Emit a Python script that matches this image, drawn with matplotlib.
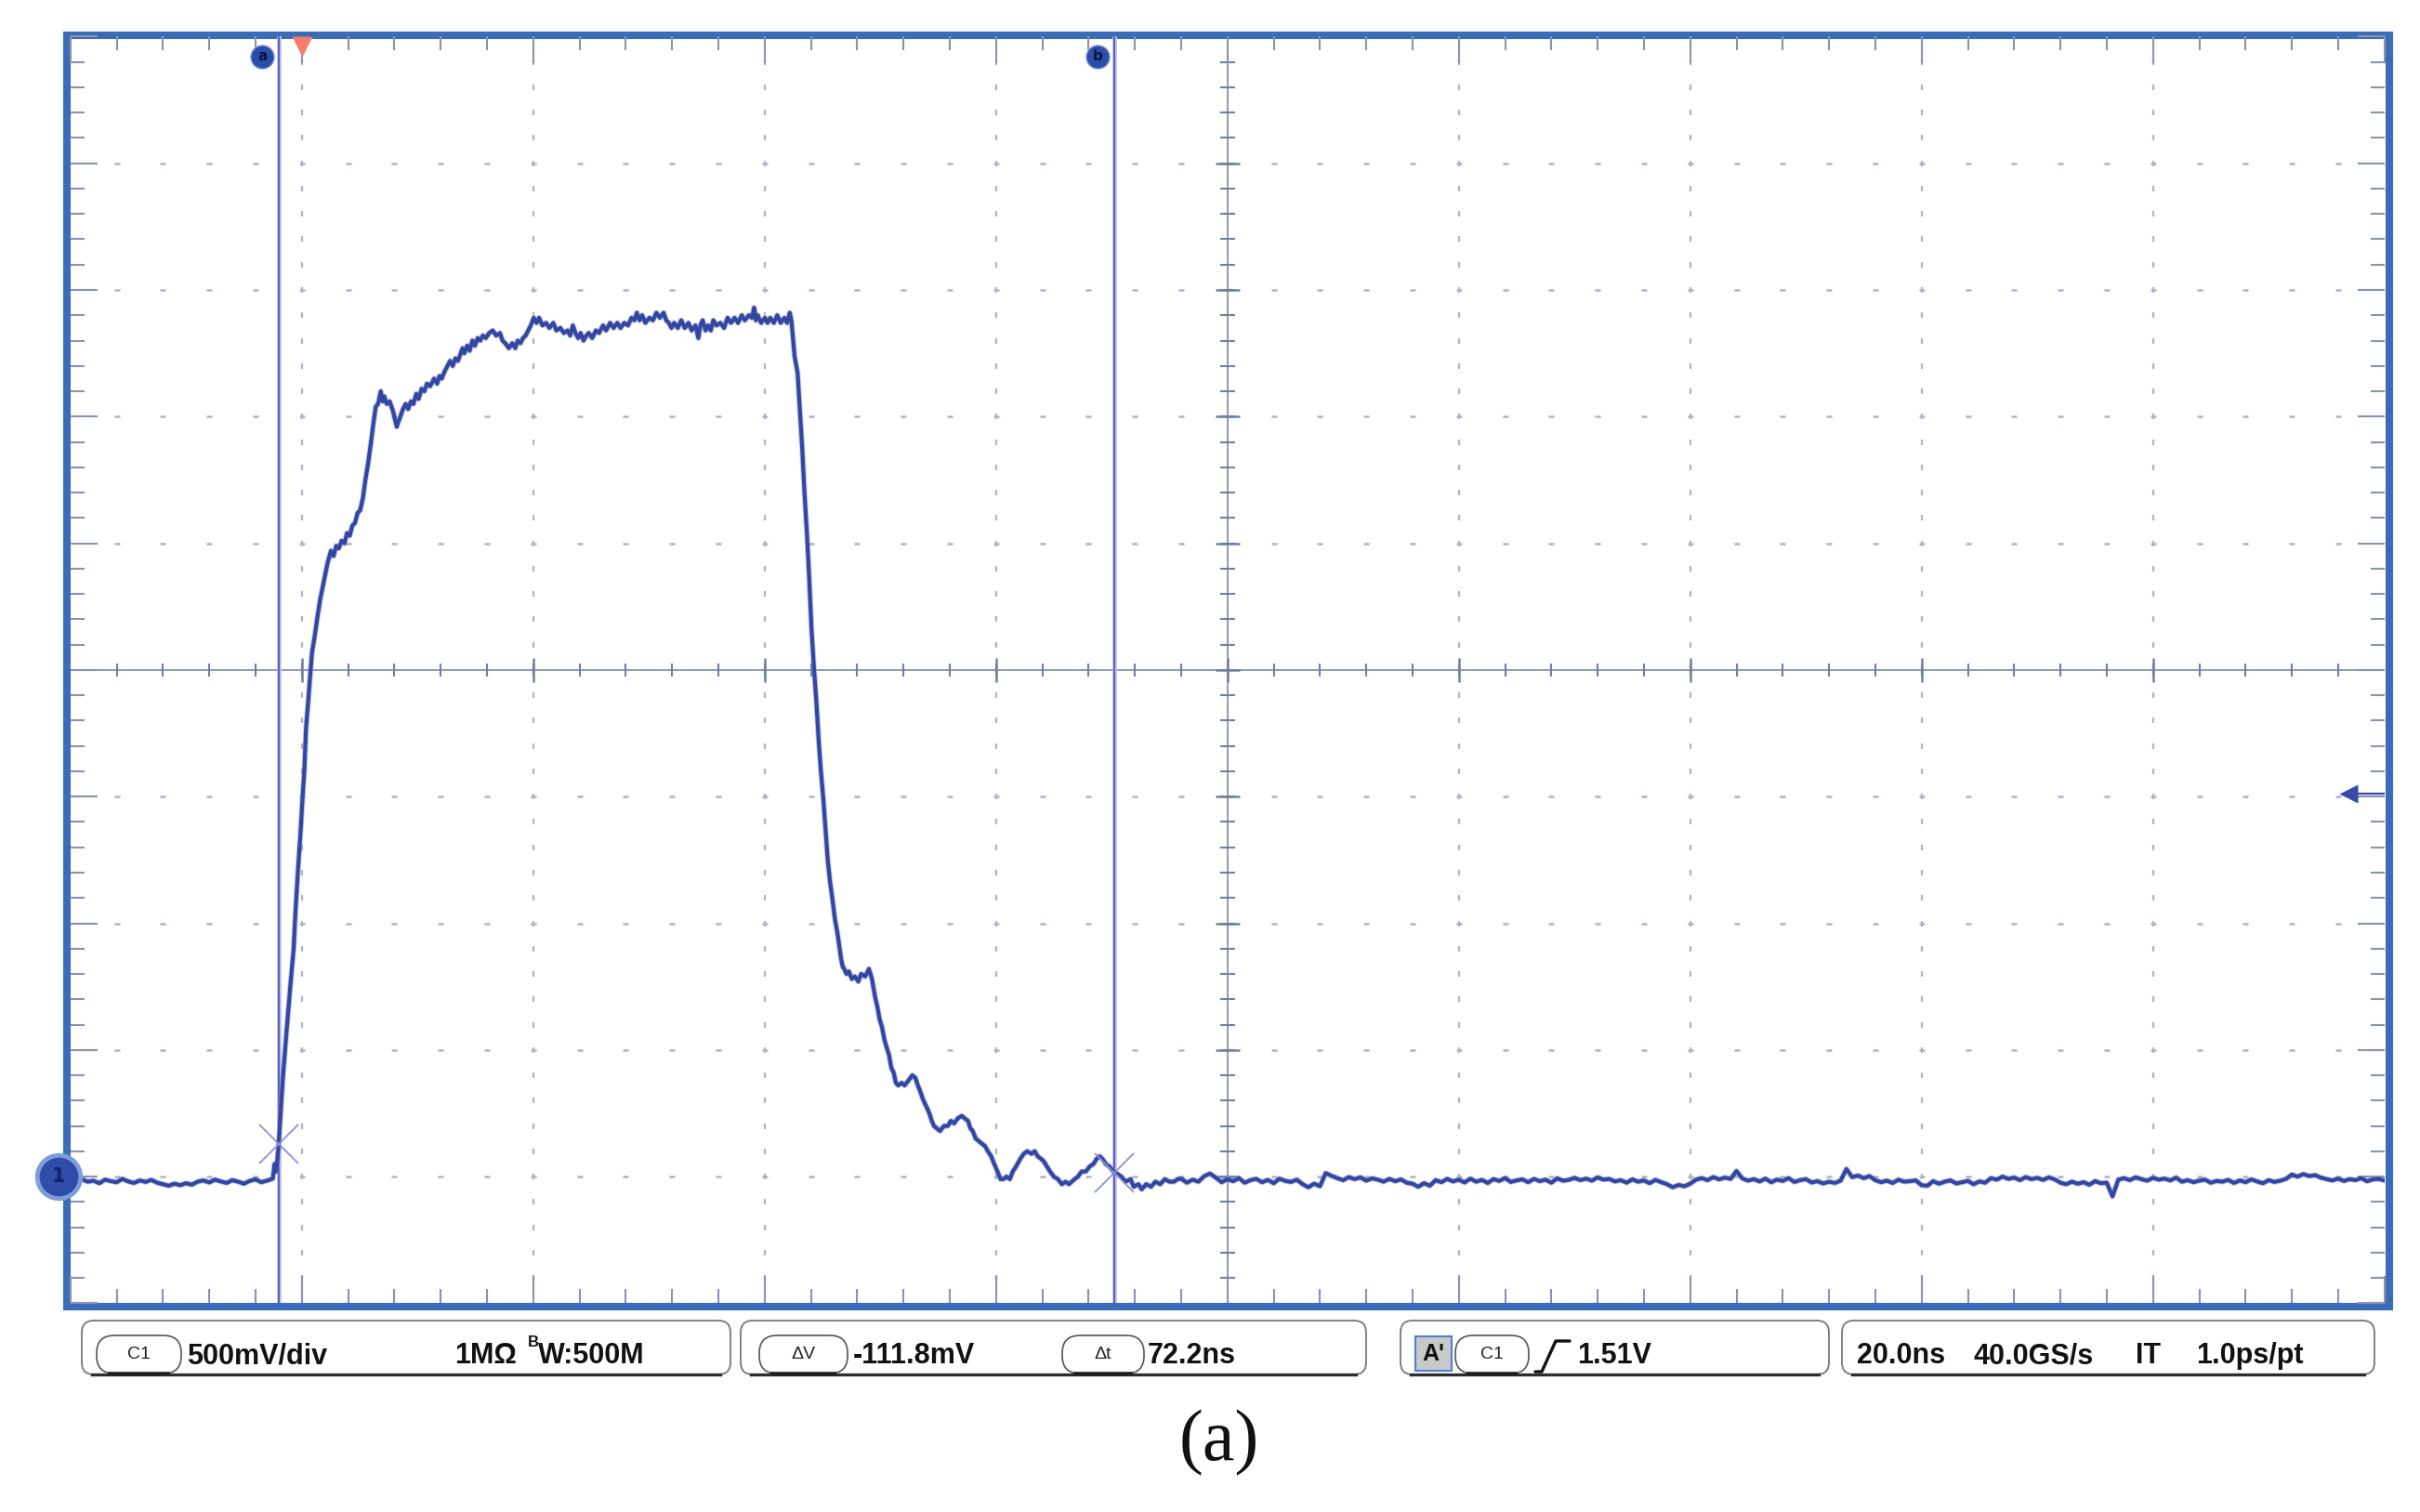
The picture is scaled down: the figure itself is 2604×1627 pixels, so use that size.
import numpy as np
import matplotlib
matplotlib.use("Agg")
import matplotlib.pyplot as plt
from matplotlib.patches import FancyBboxPatch, Rectangle
from matplotlib.lines import Line2D

# ------------------------------------------------------------------ data
TIME_PER_DIV_NS = 20.0
VOLT_PER_DIV = 0.5
X_RANGE_NS = (-20.0, 180.0)
Y_RANGE_V = (-0.5, 4.5)

# baseline before the pulse (mV), uniformly sampled over base_left_span
base_left_span = (-20.0, -2.5)
base_left_mv = [-14, -24, -10, -20, -16, -26, -12, -18, -22, -9, -19, -25,
                -15, -21, -13, -24, -30, -36, -28, -34, -26, -32, -20, -15,
                -23, -12, -19, -25, -14, -20, -28, -17, -11, -22, -16, -8]

# rising edge (ns, V)
rise_pts = [(-2.35, 0.05), (-2.20, 0.02), (-1.99, 0.13), (-1.63, 0.39), (-1.32, 0.57),
            (-1.01, 0.74), (-0.70, 0.90), (-0.55, 1.04), (-0.34, 1.20), (-0.09, 1.37),
            (0.06, 1.49), (0.22, 1.60), (0.37, 1.77), (0.53, 1.86), (0.68, 1.95),
            (0.89, 2.07), (1.14, 2.14), (1.39, 2.22), (1.60, 2.28), (1.91, 2.35),
            (2.22, 2.42), (2.52, 2.47), (2.75, 2.45), (2.98, 2.49), (3.20, 2.48),
            (3.45, 2.51), (3.70, 2.50), (3.91, 2.54), (4.15, 2.53), (4.37, 2.57),
            (4.60, 2.58), (4.83, 2.62), (5.05, 2.63), (5.29, 2.68), (5.50, 2.75),
            (5.75, 2.82), (5.99, 2.90), (6.21, 2.98), (6.40, 3.04), (6.60, 3.05),
            (6.83, 3.10)]

# top of the pulse (ns, V)
plateau_pts = [(7.00, 3.06), (7.13, 3.08), (7.35, 3.05), (7.60, 3.06), (7.90, 3.02),
               (8.05, 2.99), (8.21, 2.96), (8.35, 2.98), (8.52, 3.00), (8.75, 3.03),
               (8.98, 3.05), (9.20, 3.03), (9.44, 3.06), (9.65, 3.05), (9.90, 3.09),
               (10.10, 3.07), (10.36, 3.11), (10.60, 3.10), (10.82, 3.13), (11.10, 3.12),
               (11.44, 3.15), (11.70, 3.13), (11.90, 3.16), (12.10, 3.15), (12.36, 3.18),
               (12.60, 3.20), (12.82, 3.22), (13.05, 3.20), (13.28, 3.23), (13.50, 3.22),
               (13.74, 3.25), (13.90, 3.27), (14.05, 3.25), (14.30, 3.28), (14.51, 3.26),
               (14.75, 3.30), (14.97, 3.28), (15.20, 3.31), (15.43, 3.30), (15.65, 3.32),
               (15.90, 3.31), (16.20, 3.33), (16.51, 3.34), (16.80, 3.32), (17.13, 3.33),
               (17.35, 3.30), (17.59, 3.29), (17.90, 3.27), (18.20, 3.29), (18.45, 3.27),
               (18.66, 3.30), (18.90, 3.29), (19.12, 3.31), (19.35, 3.32), (19.58, 3.34),
               (19.80, 3.36), (20.05, 3.39), (20.30, 3.37), (20.51, 3.39), (20.80, 3.36),
               (21.12, 3.37), (21.40, 3.35), (21.74, 3.37), (22.00, 3.34), (22.35, 3.35),
               (22.65, 3.33), (22.97, 3.34), (23.20, 3.32), (23.43, 3.36), (23.65, 3.33),
               (23.89, 3.31), (24.10, 3.33), (24.35, 3.30), (24.60, 3.32), (24.81, 3.33),
               (25.10, 3.31), (25.42, 3.34), (25.70, 3.33), (26.04, 3.36), (26.30, 3.34),
               (26.65, 3.37), (26.95, 3.35), (27.27, 3.37), (27.55, 3.35), (27.88, 3.37),
               (28.20, 3.36), (28.50, 3.39), (28.75, 3.38), (28.96, 3.41), (29.20, 3.38),
               (29.42, 3.40), (29.70, 3.37), (30.04, 3.39), (30.35, 3.38), (30.65, 3.41),
               (30.95, 3.39), (31.27, 3.41), (31.50, 3.38), (31.73, 3.37), (31.95, 3.35),
               (32.19, 3.37), (32.50, 3.35), (32.80, 3.38), (33.10, 3.35), (33.42, 3.37),
               (33.70, 3.34), (34.03, 3.36), (34.28, 3.31), (34.45, 3.36), (34.65, 3.38),
               (34.90, 3.34), (35.11, 3.36), (35.35, 3.34), (35.57, 3.38), (35.85, 3.36),
               (36.18, 3.37), (36.50, 3.35), (36.80, 3.39), (37.10, 3.37), (37.41, 3.39),
               (37.70, 3.37), (38.03, 3.40), (38.30, 3.38), (38.64, 3.40), (38.90, 3.39),
               (39.10, 3.43), (39.25, 3.38), (39.41, 3.40), (39.70, 3.37), (40.03, 3.39),
               (40.25, 3.37), (40.49, 3.39), (40.80, 3.37), (41.10, 3.40), (41.40, 3.37),
               (41.72, 3.39), (41.95, 3.37), (42.18, 3.41)]

# falling edge (ns, V)
fall_pts = [(42.32, 3.38), (42.59, 3.24), (42.86, 3.17), (43.05, 3.03), (43.26, 2.87),
            (43.45, 2.70), (43.66, 2.54), (43.85, 2.37), (44.06, 2.16), (44.25, 2.02),
            (44.47, 1.88), (44.68, 1.72), (44.87, 1.60), (45.08, 1.49), (45.27, 1.37),
            (45.46, 1.25), (45.67, 1.16), (45.88, 1.09), (46.07, 1.02), (46.34, 0.95),
            (46.61, 0.86), (46.75, 0.83)]

# ringing tail (ns, V)
tail_pts = [(46.88, 0.82), (47.08, 0.80), (47.28, 0.81), (47.55, 0.78), (47.81, 0.79),
            (48.10, 0.77), (48.35, 0.80), (48.70, 0.79), (49.02, 0.82), (49.28, 0.78),
            (49.55, 0.71), (49.75, 0.67), (49.95, 0.62), (50.15, 0.59), (50.36, 0.54),
            (50.55, 0.51), (50.76, 0.48), (50.95, 0.43), (51.16, 0.41), (51.35, 0.37),
            (51.56, 0.36), (51.85, 0.37), (52.10, 0.36), (52.45, 0.38), (52.77, 0.40),
            (53.03, 0.39), (53.25, 0.36), (53.43, 0.34), (53.65, 0.31), (53.84, 0.29),
            (54.05, 0.27), (54.24, 0.25), (54.45, 0.22), (54.64, 0.20), (54.90, 0.19),
            (55.17, 0.18), (55.50, 0.20), (55.84, 0.20), (56.10, 0.22), (56.38, 0.21),
            (56.70, 0.23), (57.05, 0.24), (57.30, 0.23), (57.58, 0.22), (57.80, 0.19),
            (57.99, 0.18), (58.25, 0.15), (58.52, 0.14), (58.80, 0.13), (59.06, 0.12),
            (59.30, 0.10), (59.59, 0.08), (59.85, 0.05), (60.13, 0.02), (60.40, -0.01),
            (60.66, -0.01), (60.90, 0.00), (61.20, -0.01), (61.45, 0.02), (61.74, 0.04),
            (62.10, 0.07), (62.40, 0.09), (62.70, 0.10), (63.07, 0.09), (63.35, 0.10),
            (63.61, 0.08), (63.90, 0.07), (64.14, 0.06), (64.40, 0.04), (64.68, 0.02),
            (65.00, 0.00), (65.35, -0.01), (65.70, -0.03), (66.02, -0.02), (66.30, -0.03),
            (66.55, -0.02), (66.80, -0.01), (67.09, 0.00), (67.40, 0.02), (67.76, 0.02),
            (68.10, 0.04), (68.43, 0.05), (68.70, 0.07), (68.96, 0.08), (69.20, 0.07),
            (69.50, 0.05), (69.80, 0.04), (70.17, 0.02), (70.50, 0.01), (70.84, 0.00),
            (71.20, -0.02), (71.64, -0.01), (71.90, -0.04), (72.31, -0.03), (72.60, -0.05),
            (72.98, -0.03), (73.40, -0.04), (73.78, -0.02), (74.20, -0.03), (74.59, -0.01),
            (75.00, -0.02), (75.39, -0.02), (75.70, -0.01)]

# baseline after the pulse (mV), uniformly sampled over base_right_span
base_right_span = (76.0, 180.0)
base_right_mv = [-8, -24, -12, -20, 2, 12, -4, -22, -10, -18,
                 -6, -24, -14, -9, -22, -13, -26, -8, -17, -21,
                 -12, -30, -42, -28, -38, 14, 3, -6, -14, -2,
                 -10, -3, -16, -7, -12, -20, -9, -18, -11, -24,
                 -28, -40, -26, -36, -14, -22, -9, -19, -12, -23,
                 -8, -20, -13, -25, -10, -17, -6, -21, -15, -11,
                 -22, -9, -18, -12, -24, -7, -16, -13, -5, -14,
                 -8, -16, -3, -12, -9, -19, -14, -24, -11, -20,
                 -15, -26, -13, -22, -30, -42, -33, -38, -28, -12,
                 -6, -14, -2, -11, -4, -9, 22, -7, -16, -10,
                 -19, -8, -22, -12, -17, -6, -21, -14, -10, -23,
                 -18, -27, -20, -25, -16, 30, -2, 4, -6, 2,
                 -14, -22, -16, -25, -12, -20, -18, -15, -34, -36,
                 -18, -28, -20, -15, -27, -22, -17, -30, -19, -24,
                 -6, -12, 0, -9, -4, -14, -2, -10, -5, -13,
                 -3, -11, -24, -30, -20, -28, -22, -32, -18, -26,
                 -24, -78, -12, -6, -14, -3, -10, -16, -5, -12,
                 -8, -15, -4, -20, -14, -22, -16, -12, -24, -17,
                 -20, -13, -25, -15, -22, -11, -19, -26, -14, -21,
                 -16, -9, 8, 0, 10, 2, 6, -4, -10, -15,
                 -8, -17, -10, -14, -6, -18, -11, -9, -15]

# cursors / trigger / ground
cursor_a_ns, cursor_b_ns = -1.99, 70.21
cursor_a_v, cursor_b_v = 0.128, 0.016
trigger_pos_ns = 0.0
trigger_level_v = 1.51
ground_v = 0.0

# readout texts
ch_label = "C1"
scale_text = "500mV/div"
impedance_text = "1M\u03a9"
bw_sup, bw_text = "B", "W:500M"
dv_label, dv_text = "\u0394V", "-111.8mV"
dt_label, dt_text = "\u0394t", "72.2ns"
trig_src_text, trig_text = "A'", "1.51V"
timebase_text = "20.0ns"
rate_text = "40.0GS/s"
mode_text = "IT"
res_text = "1.0ps/pt"
caption = "(a)"

# ------------------------------------------------------------------ figure
W, H = 2604, 1627
fig = plt.figure(figsize=(W / 100, H / 100), dpi=100, facecolor="white")
ov = fig.add_axes([0, 0, 1, 1], zorder=0)
ov.set_xlim(0, W)
ov.set_ylim(H, 0)
ov.axis("off")

gx0, gx1, gy0, gy1 = 75.7, 2565.7, 39.4, 1402.4
ax = fig.add_axes([gx0 / W, 1 - gy1 / H, (gx1 - gx0) / W, (gy1 - gy0) / H], zorder=1)
ax.patch.set_alpha(0)
X0, X1 = X_RANGE_NS
Y0, Y1 = Y_RANGE_V
ax.set_xlim(X0, X1)
ax.set_ylim(Y0, Y1)
for s in ax.spines.values():
    s.set_visible(False)

px_per_ns = (gx1 - gx0) / (X1 - X0)
px_per_v = (gy1 - gy0) / (Y1 - Y0)

# edge ticks
tick_col = "#8a93ab"
ax.set_xticks(np.arange(X0, X1 + 1e-9, TIME_PER_DIV_NS))
ax.set_xticks(np.arange(X0, X1 + 1e-9, TIME_PER_DIV_NS / 5), minor=True)
ax.set_yticks(np.arange(Y0, Y1 + 1e-9, VOLT_PER_DIV))
ax.set_yticks(np.arange(Y0, Y1 + 1e-9, VOLT_PER_DIV / 5), minor=True)
ax.tick_params(which="both", direction="in", top=True, right=True, bottom=True, left=True,
               labelbottom=False, labelleft=False, color=tick_col, width=1.5)
ax.tick_params(which="major", length=21)
ax.tick_params(which="minor", length=10.5)

# dotted graticule
xdiv = np.arange(X0, X1 + 1e-9, TIME_PER_DIV_NS)
ydiv = np.arange(Y0, Y1 + 1e-9, VOLT_PER_DIV)
xminor = np.arange(X0, X1 + 1e-9, TIME_PER_DIV_NS / 5)[1:-1]
yminor = np.arange(Y0, Y1 + 1e-9, VOLT_PER_DIV / 5)[1:-1]
xc = (X0 + X1) / 2
yc = (Y0 + Y1) / 2
grid_col = "#aeb4c6"
for xg in xdiv[1:-1]:
    if abs(xg - xc) < 1e-6:
        continue
    ax.plot(np.full(len(yminor), xg), yminor, ls="none", marker="|", ms=4, mew=1.6,
            color=grid_col, zorder=1)
for yg in ydiv[1:-1]:
    if abs(yg - yc) < 1e-6:
        continue
    ax.plot(xminor, np.full(len(xminor), yg), ls="none", marker="_", ms=4.5, mew=1.8,
            color=grid_col, zorder=1)

# centre axes with cross ticks
cl_col = "#72809f"
ax.axhline(yc, color=cl_col, lw=1.1, zorder=1.5)
ax.axvline(xc, color=cl_col, lw=1.1, zorder=1.5)
ax.plot(xminor, np.full(len(xminor), yc), ls="none", marker="|", ms=10, mew=1.5, color=cl_col, zorder=1.5)
ax.plot(xdiv[1:-1], np.full(len(xdiv) - 2, yc), ls="none", marker="|", ms=19, mew=1.8, color=cl_col, zorder=1.5)
ax.plot(np.full(len(yminor), xc), yminor, ls="none", marker="_", ms=12, mew=1.5, color=cl_col, zorder=1.5)
ax.plot(np.full(len(ydiv) - 2, xc), ydiv[1:-1], ls="none", marker="_", ms=19, mew=1.8, color=cl_col, zorder=1.5)

# cursors
for xcur in (cursor_a_ns, cursor_b_ns):
    ax.axvline(xcur, color="#c0c3ea", lw=3.4, zorder=2)
    ax.axvline(xcur, color="#5a61c0", lw=1.5, zorder=2.1)

# waveform
lt = np.linspace(base_left_span[0], base_left_span[1], len(base_left_mv))
rt = np.linspace(base_right_span[0], base_right_span[1], len(base_right_mv))
seg = rise_pts + plateau_pts + fall_pts + tail_pts
st = [p[0] for p in seg]
sv = [p[1] for p in seg]
t_all = np.concatenate([lt, st, rt])
v_all = np.concatenate([np.array(base_left_mv) / 1000.0, sv, np.array(base_right_mv) / 1000.0])
ax.plot(t_all, v_all, color="#8a96d0", lw=4.4, alpha=0.55, zorder=2.9, solid_joinstyle="round")
ax.plot(t_all, v_all, color="#3246a2", lw=3.0, zorder=3, solid_joinstyle="round")

# cursor crossings
ax.plot([cursor_a_ns, cursor_b_ns], [cursor_a_v, cursor_b_v], ls="none", marker="x",
        ms=30, mew=1.3, color="#8b90d8", zorder=4)

# cursor label bubbles
lab_dx = 17.5 / px_per_ns
lab_y = Y1 - 21.3 / px_per_v
for name, xcur in (("a", cursor_a_ns), ("b", cursor_b_ns)):
    ax.plot(xcur - lab_dx, lab_y, marker="o", ms=18, color="#2c4da8", mec="#7d96d6", mew=1.0,
            clip_on=False, zorder=5)
    ax.text(xcur - lab_dx, lab_y, name, ha="center", va="center", fontsize=11,
            color="#0c1445", fontweight="bold", zorder=6)

# trigger position marker
ax.plot(trigger_pos_ns, Y1 - 11 / px_per_v, marker="v", ms=16, color="#f57d6d", mec="none",
        clip_on=False, zorder=5)

# trigger level arrow
tip = X1 - 49 / px_per_ns
ax.plot(tip + 10 / px_per_ns, trigger_level_v, marker="<", ms=14, color="#3a48a8", mec="none",
        clip_on=False, zorder=5)
ax.plot([tip + 18 / px_per_ns, X1], [trigger_level_v] * 2, color="#3a48a8", lw=1.6, zorder=5)

# ground marker "1"
gxm = X0 - 12.7 / px_per_ns
ax.plot(gxm, ground_v, marker="o", ms=37, color="#7f9ddc", mec="none", clip_on=False, zorder=6)
ax.plot(gxm, ground_v, marker="o", ms=30, color="#2e4ca8", mec="none", clip_on=False, zorder=7)
ax.text(gxm, ground_v, "1", ha="center", va="center", fontsize=15, color="#142266",
        fontweight="bold", zorder=8, clip_on=False)

# frame border
ov.add_patch(Rectangle((72, 37.5), 2571 - 72, 1405.5 - 37.5, fill=False, ec="#3b6cb9",
                       lw=5.8, joinstyle="miter", zorder=2))

# ------------------------------------------------------------------ readout bar
FONT = ["Liberation Sans", "DejaVu Sans"]
by0, by1 = 1421, 1479
base_y = 1467


def box(x0, x1):
    ov.add_patch(FancyBboxPatch((x0, by0), x1 - x0, by1 - by0,
                                boxstyle="round,pad=0,rounding_size=13",
                                fc="white", ec="#777777", lw=1.3, zorder=3))
    ov.add_line(Line2D([x0 + 11, x1 - 11], [by1, by1], color="#2e2e2e", lw=2.4, zorder=4))


def pill(x0, x1, label):
    ov.add_patch(FancyBboxPatch((x0, 1437), x1 - x0, 41,
                                boxstyle="round,pad=0,rounding_size=19",
                                fc="white", ec="#555555", lw=1.2, zorder=5))
    ov.add_line(Line2D([x0 + 14, x1 - 14], [1478, 1478], color="#1e1e1e", lw=2.6, zorder=6))
    ov.text((x0 + x1) / 2, 1458, label, ha="center", va="center", fontsize=14,
            family=FONT, color="#222222", zorder=7)


def txt(x, s, size=22, y=base_y):
    ov.text(x, y, s, ha="left", va="baseline", fontsize=size, fontweight="bold",
            family=FONT, color="#111111", zorder=7)


box(88, 786)
pill(104, 195, ch_label)
txt(201, scale_text)
txt(489, impedance_text)
txt(568, bw_sup, size=12, y=1449)
txt(579, bw_text)

box(797, 1470)
pill(817, 912, dv_label)
txt(918, dv_text)
pill(1143, 1231, dt_label)
txt(1235, dt_text)

box(1507, 1968)
ov.add_patch(Rectangle((1523, 1438), 39, 37, fc="#c9c9c9", ec="#4d7fd6", lw=1.5, zorder=5))
ov.text(1542.5, 1457, trig_src_text, ha="center", va="center", fontsize=18, fontweight="bold",
        family=FONT, color="#111111", zorder=7)
pill(1566, 1645, ch_label)
ov.add_line(Line2D([1652, 1659, 1674, 1689], [1476, 1476, 1443, 1443], color="#111111",
                   lw=2.4, zorder=7, solid_capstyle="round"))
txt(1697, trig_text)

box(1982, 2555)
txt(1998, timebase_text)
txt(2123, rate_text)
txt(2298, mode_text)
txt(2363, res_text)

# caption
ov.text(1312, 1553, caption, ha="center", va="center", fontsize=56,
        family=["Liberation Serif", "DejaVu Serif"], color="#111111", zorder=7)

fig.savefig("out.png", dpi=100, facecolor="white")
